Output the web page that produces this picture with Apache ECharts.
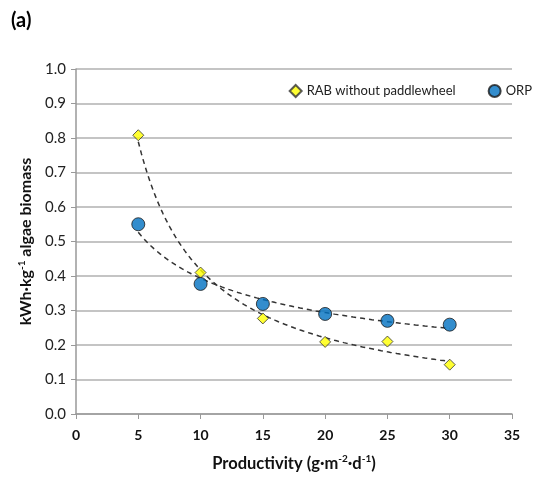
<!DOCTYPE html>
<html><head><meta charset="utf-8">
<script src="https://cdn.jsdelivr.net/npm/echarts@6/dist/echarts.min.js"></script>
<style>html,body{margin:0;padding:0;background:#fff}#c{width:559px;height:477px}</style>
</head><body><div id="c"></div>
<script>
var productivity = [5, 10, 15, 20, 25, 30];
var rabValues = [0.808, 0.41, 0.277, 0.209, 0.21, 0.143];
var orpValues = [0.55, 0.377, 0.319, 0.29, 0.27, 0.259];
var yTicks = [0, 0.1, 0.2, 0.3, 0.4, 0.5, 0.6, 0.7, 0.8, 0.9, 1.0];
var xTicks = [0, 5, 10, 15, 20, 25, 30, 35];

function powerFit(xs, ys) {
  var n = xs.length, sx = 0, sy = 0, sxx = 0, sxy = 0;
  for (var i = 0; i < n; i++) {
    var lx = Math.log(xs[i]), ly = Math.log(ys[i]);
    sx += lx; sy += ly; sxx += lx * lx; sxy += lx * ly;
  }
  var b = (n * sxy - sx * sy) / (n * sxx - sx * sx);
  var a = Math.exp((sy - b * sx) / n);
  var pts = [];
  var x0 = xs[0], x1 = xs[n - 1];
  for (var k = 0; k <= 100; k++) {
    var x = x0 + (x1 - x0) * k / 100;
    pts.push([x, a * Math.pow(x, b)]);
  }
  return pts;
}

var chart = echarts.init(document.getElementById('c'));
var font = 'Lato, "Open Sans", sans-serif';
chart.setOption({
  animation: false,
  textStyle: { fontFamily: font },
  title: { text: '(a)', left: 6, top: 6, textStyle: { fontSize: 20, fontWeight: 'bold', color: '#000', fontFamily: font } },
  legend: {
    top: 79, right: 22, itemGap: 32, itemWidth: 12, itemHeight: 12,
    textStyle: { fontSize: 13, color: '#222', fontFamily: font },
    data: [
      { name: 'RAB without paddlewheel', icon: 'diamond' },
      { name: 'ORP', icon: 'circle' }
    ]
  },
  grid: { left: 76, right: 47, top: 69, bottom: 63 },
  xAxis: {
    type: 'value', min: 0, max: 35, interval: 5,
    axisLine: { lineStyle: { color: '#999', width: 1.5 } },
    axisTick: { show: true, inside: false, length: 5, lineStyle: { color: '#999' } },
    splitLine: { show: false },
    axisLabel: { fontSize: 14, fontWeight: 'bold', color: '#111', margin: 14, fontFamily: font },
    name: '{n|Productivity (g·m}{s|-2}{n|·d}{s|-1}{n|)}',
    nameLocation: 'middle', nameGap: 40,
    nameTextStyle: { rich: {
      n: { fontSize: 16.5, fontWeight: 'bold', color: '#111', fontFamily: font },
      s: { fontSize: 10, fontWeight: 'bold', color: '#111', verticalAlign: 'top', padding: [0, 0, 9, 0], fontFamily: font }
    } }
  },
  yAxis: {
    type: 'value', min: 0, max: 1, interval: 0.1,
    axisLine: { show: true, lineStyle: { color: '#999', width: 1.5 } },
    axisTick: { show: true, inside: false, length: 5, lineStyle: { color: '#999' } },
    splitLine: { show: true, lineStyle: { color: '#b0b0b0', width: 1.5 } },
    axisLabel: { fontSize: 15, color: '#222', margin: 10, formatter: function (v) { return v.toFixed(1); }, fontFamily: font },
    name: '{n|kWh·kg}{s|-1}{n| algae biomass}',
    nameLocation: 'middle', nameGap: 40,
    nameTextStyle: { rich: {
      n: { fontSize: 16, fontWeight: 'bold', color: '#111', fontFamily: font },
      s: { fontSize: 10, fontWeight: 'bold', color: '#111', verticalAlign: 'top', padding: [0, 0, 9, 0], fontFamily: font }
    } }
  },
  series: [
    {
      name: 'RAB fit', type: 'line', showSymbol: false, silent: true,
      data: powerFit(productivity, rabValues),
      lineStyle: { color: '#333', width: 1.5, type: [5, 4] }, z: 1
    },
    {
      name: 'ORP fit', type: 'line', showSymbol: false, silent: true,
      data: powerFit(productivity, orpValues),
      lineStyle: { color: '#333', width: 1.5, type: [5, 4] }, z: 1
    },
    {
      name: 'RAB without paddlewheel', type: 'scatter', symbol: 'diamond', symbolSize: 11,
      data: productivity.map(function (x, i) { return [x, rabValues[i]]; }),
      itemStyle: { color: '#FFFF00', borderColor: '#333', borderWidth: 1 }, z: 3
    },
    {
      name: 'ORP', type: 'scatter', symbol: 'circle', symbolSize: 13,
      data: productivity.map(function (x, i) { return [x, orpValues[i]]; }),
      itemStyle: { color: '#0070C0', borderColor: '#1a1a1a', borderWidth: 1 }, z: 3
    }
  ]
});
</script></body></html>
